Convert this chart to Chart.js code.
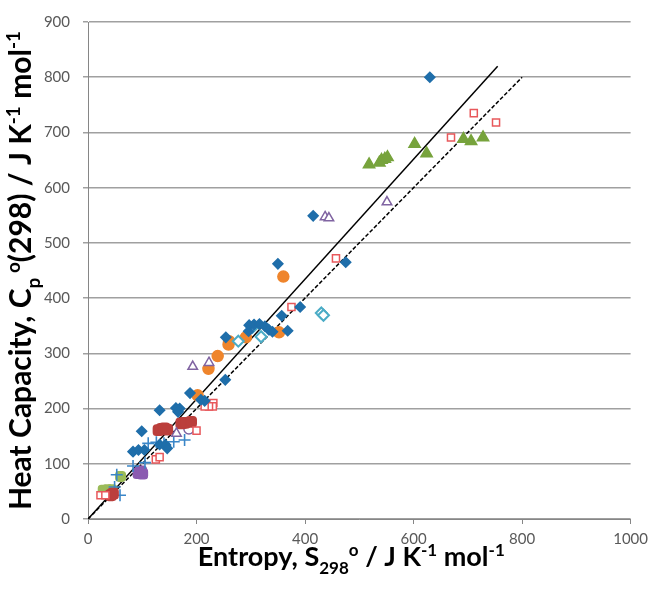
<!DOCTYPE html>
<html>
<head>
<meta charset="utf-8">
<script src="https://cdn.jsdelivr.net/npm/chart.js@4.4.1/dist/chart.umd.min.js"></script>
<style>
  body { margin: 0; background: #fff; }
</style>
</head>
<body>
<canvas id="cpChart" width="654" height="591"></canvas>
<script>
// Data: [S298, Cp(298)]
const blueDiamonds = [[630, 800], [415, 549], [475, 465], [350, 462], [391, 384], [357, 368], [368, 341],
  [297, 351], [306, 352], [316, 353], [326, 349], [333, 343], [340, 339], [296, 340], [254, 329],
  [253, 252], [188, 228], [208, 216], [215, 214], [169, 200], [162, 201], [166, 194], [132, 197],
  [99, 159], [83, 122], [93, 125], [104, 125], [132, 135], [143, 134], [146, 128]];
const redOpenSquares = [[752, 718], [711, 735], [669, 691], [457, 472], [375, 384], [231, 210],
  [230, 204], [223, 204], [215, 204], [200, 160], [125, 108], [132, 112], [23, 43], [32, 43]];
const greenTriangles = [[518, 642], [537, 645], [541, 650], [547, 652], [552, 655], [602, 679],
  [624, 662], [692, 688], [706, 684], [728, 691]];
const purpleOpenTriangles = [[551, 574], [437, 547], [444, 545], [193, 276], [223, 283], [163, 155]];
const tealOpenDiamonds = [[430, 373], [434, 369], [319, 330], [277, 322], [303, 347]];
const orangeCircles = [[360, 439], [352, 338], [291, 329], [260, 322], [259, 316], [239, 295],
  [222, 272], [202, 224]];
const darkRedSquares = [[130, 161], [136, 163], [141, 164], [146, 162], [172, 173], [178, 174],
  [190, 176], [42, 43], [46, 46]];
const bluePluses = [[178, 143], [158, 140], [140, 137], [126, 139], [111, 137], [105, 102],
  [83, 96], [53, 80], [49, 58], [59, 43]];
const purpleFilled = [[93, 83], [98, 86], [100, 82]];
const lightGreenSquares = [[28, 52], [36, 53], [44, 53], [60, 77]];
const purpleOpenCircles = [[186, 163]];
const fitLine = [[0, 0], [755, 820]];
const equalityLine = [[0, 0], [800, 800]];

const xTicks = [0, 200, 400, 600, 800, 1000];
const yTicks = [0, 100, 200, 300, 400, 500, 600, 700, 800, 900];

const toXY = arr => arr.map(p => ({ x: p[0], y: p[1] }));

function series(data, style, color, fill, radius, border) {
  return {
    data: toXY(data),
    pointStyle: style,
    pointRadius: radius,
    borderColor: color,
    backgroundColor: fill ? color : '#ffffff',
    pointBorderWidth: border || 1.5,
    showLine: false,
    order: 0
  };
}

// text made of normal / sub / sup pieces
function richParts(ctx, parts, size) {
  return parts.map(p => {
    const small = p[1] !== 'n';
    const font = 'bold ' + (small ? Math.round(size * 0.62) : size) + 'px Lato';
    ctx.font = font;
    const dy = p[1] === 'sub' ? size * 0.3 : (p[1] === 'sup' ? -size * 0.38 : 0);
    return { text: p[0], font, dy, w: ctx.measureText(p[0]).width };
  });
}

function drawRich(ctx, parts, size, cx, cy) {
  const pieces = richParts(ctx, parts, size);
  const total = pieces.reduce((s, p) => s + p.w, 0);
  let x = cx - total / 2;
  ctx.fillStyle = '#000000';
  ctx.textBaseline = 'alphabetic';
  ctx.textAlign = 'left';
  pieces.forEach(p => {
    ctx.font = p.font;
    ctx.fillText(p.text, x, cy + p.dy);
    x += p.w;
  });
}

const axisTitles = {
  id: 'axisTitles',
  afterDraw(chart) {
    const ctx = chart.ctx;
    const area = chart.chartArea;
    ctx.save();
    drawRich(ctx, [['Entropy, S', 'n'], ['298', 'sub'], ['o', 'sup'], [' / J K', 'n'], ['-1', 'sup'],
      [' mol', 'n'], ['-1', 'sup']], 27, (area.left + area.right) / 2 - 8, 566);
    ctx.translate(31, (area.top + area.bottom) / 2);
    ctx.rotate(-Math.PI / 2);
    drawRich(ctx, [['Heat Capacity, C', 'n'], ['p', 'sub'], [' o', 'sup'], ['(298) / J K', 'n'], ['-1', 'sup'],
      [' mol', 'n'], ['-1', 'sup']], 30, 0, 0);
    ctx.restore();
  }
};

const ctx = document.getElementById('cpChart').getContext('2d');
const cpChart = new Chart(ctx, {
  type: 'scatter',
  data: {
    datasets: [
      series(blueDiamonds, 'rectRot', '#1f6eaa', true, 5),
      series(redOpenSquares, 'rect', '#e8585b', false, 5),
      series(greenTriangles, 'triangle', '#77a33c', true, 6.5),
      series(purpleOpenTriangles, 'triangle', '#8064a2', false, 5.5),
      series(tealOpenDiamonds, 'rectRot', '#4bacc6', false, 5.5, 2),
      series(orangeCircles, 'circle', '#ef852c', true, 5.5),
      series(darkRedSquares, 'rectRounded', '#bb3f3c', true, 6),
      series(bluePluses, 'cross', '#3a86c8', false, 6, 1.6),
      series(purpleFilled, 'rectRounded', '#8b5bb1', true, 6),
      series(lightGreenSquares, 'rectRounded', '#9bbb59', true, 5.5),
      series(purpleOpenCircles, 'circle', '#8064a2', false, 5),
      {
        type: 'line', data: toXY(fitLine), borderColor: '#000000', borderWidth: 1.5,
        pointRadius: 0, fill: false, order: 5
      },
      {
        type: 'line', data: toXY(equalityLine), borderColor: '#000000', borderWidth: 1.5,
        borderDash: [4, 2], pointRadius: 0, fill: false, order: 5
      }
    ]
  },
  options: {
    responsive: false,
    animation: false,
    layout: { padding: { top: 21, right: 21, left: 0, bottom: 0 } },
    plugins: { legend: { display: false }, tooltip: { enabled: false } },
    scales: {
      x: {
        type: 'linear', min: 0, max: 1000,
        afterBuildTicks: s => { s.ticks = xTicks.map(v => ({ value: v })); },
        afterFit: s => { s.height = 72; },
        ticks: {
          color: '#595959', font: { size: 15, family: 'Lato' }, padding: 6, maxRotation: 0,
          callback: v => String(v)
        },
        grid: { drawOnChartArea: false, color: '#868686', tickLength: 5 },
        border: { color: '#868686', width: 1 }
      },
      y: {
        type: 'linear', min: 0, max: 900,
        afterBuildTicks: s => { s.ticks = yTicks.map(v => ({ value: v })); },
        afterFit: s => { s.width = 88; },
        ticks: { color: '#595959', font: { size: 15, family: 'Lato' }, padding: 13 },
        grid: { color: '#a0a0a0', lineWidth: 1.5, tickLength: 5 },
        border: { color: '#868686', width: 1 }
      }
    }
  },
  plugins: [axisTitles]
});
</script>
</body>
</html>
